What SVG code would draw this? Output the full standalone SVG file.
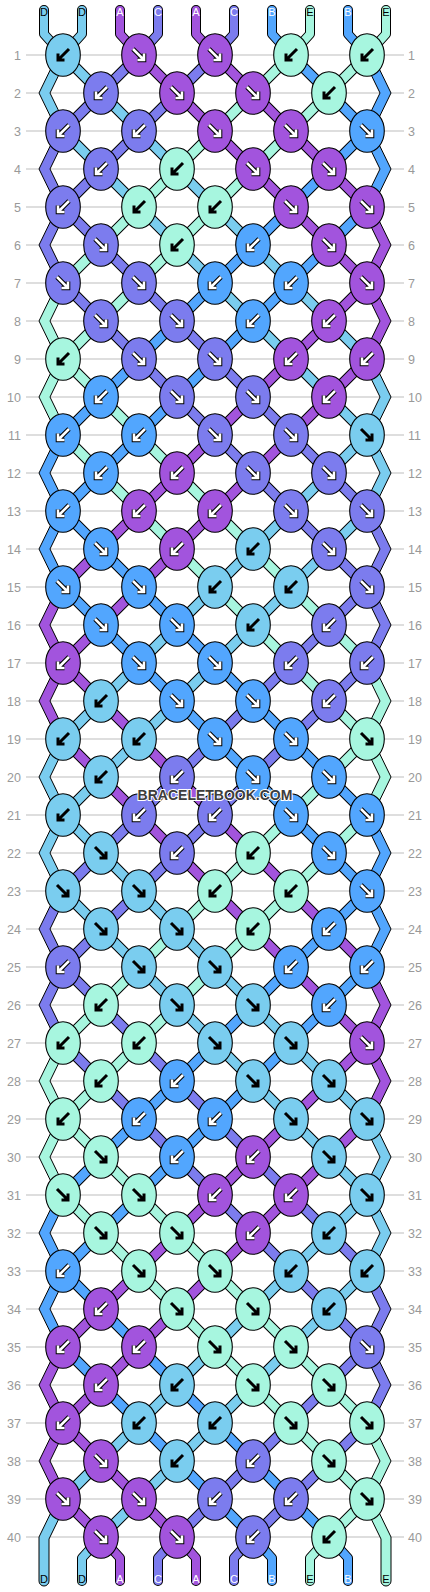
<svg xmlns="http://www.w3.org/2000/svg" xmlns:xlink="http://www.w3.org/1999/xlink" width="430" height="1592" viewBox="0 0 430 1592">
<style>
.fD{fill:#7acdef}.fA{fill:#a254dd}.fC{fill:#7c7cee}.fB{fill:#52a6fe}.fE{fill:#a7f6df}
.sD{stroke:#7acdef}.sA{stroke:#a254dd}.sC{stroke:#7c7cee}.sB{stroke:#52a6fe}.sE{stroke:#a7f6df}
.cn{fill:none;stroke-width:9}
.ol{fill:none;stroke:#000;stroke-width:11}
.th{fill:none;stroke-width:8;stroke-linecap:round;stroke-linejoin:round}
.tho{fill:none;stroke:#000;stroke-width:10;stroke-linecap:round;stroke-linejoin:round}
.ed{stroke:#000;stroke-width:1}
#o{stroke:#000;stroke-width:1.1}
.ab{stroke:#000;stroke-width:3}
.aw1{stroke:#000;stroke-width:4.6}
.aw2{stroke:#fff;stroke-width:2.6}
.grid{fill:none;stroke:#bdbdbd;stroke-width:1}
.rn{font-family:"Liberation Sans",Arial,sans-serif;font-size:12.5px;fill:#999}
.lb{font-family:"Liberation Sans",Arial,sans-serif;font-size:11px;text-anchor:middle}
.lk{fill:#000}.lw{fill:#fff}
.wm{font-family:"Liberation Sans",Arial,sans-serif;font-size:14px;font-weight:bold;fill:#3d3d3d;stroke:#fff;stroke-width:2;paint-order:stroke;text-anchor:middle}
</style>
<defs>
<ellipse id="o" rx="17.3" ry="21.3"/>
<path id="aR" d="M-6,-6L4,4M5,-1.5V5H-1.5" fill="none"/>
<path id="aL" d="M6,-6L-4,4M-5,-1.5V5H1.5" fill="none"/>
<path id="eL" class="ed" d="M57.5,-38L39,0L57.5,38H68.5L50,0L68.5,-38Z"/>
<path id="eR" class="ed" d="M372.5,-38L391,0L372.5,38H361.5L380,0L361.5,-38Z"/>
<g id="DL"><use href="#o" class="fD"/><use href="#aL" class="ab"/></g>
<g id="DR"><use href="#o" class="fD"/><use href="#aR" class="ab"/></g>
<g id="EL"><use href="#o" class="fE"/><use href="#aL" class="ab"/></g>
<g id="ER"><use href="#o" class="fE"/><use href="#aR" class="ab"/></g>
<g id="AL"><use href="#o" class="fA"/><use href="#aL" class="aw1"/><use href="#aL" class="aw2"/></g>
<g id="AR"><use href="#o" class="fA"/><use href="#aR" class="aw1"/><use href="#aR" class="aw2"/></g>
<g id="CL"><use href="#o" class="fC"/><use href="#aL" class="aw1"/><use href="#aL" class="aw2"/></g>
<g id="CR"><use href="#o" class="fC"/><use href="#aR" class="aw1"/><use href="#aR" class="aw2"/></g>
<g id="BL"><use href="#o" class="fB"/><use href="#aL" class="aw1"/><use href="#aL" class="aw2"/></g>
<g id="BR"><use href="#o" class="fB"/><use href="#aR" class="aw1"/><use href="#aR" class="aw2"/></g>
</defs>
<rect width="430" height="1592" fill="#fff"/>
<g id="grid">
<path class="grid" d="M26,55H404M26,93H404M26,131H404M26,169H404M26,207H404M26,245H404M26,283H404M26,321H404M26,359H404M26,397H404M26,435H404M26,473H404M26,511H404M26,549H404M26,587H404M26,625H404M26,663H404M26,701H404M26,739H404M26,777H404M26,815H404M26,853H404M26,891H404M26,929H404M26,967H404M26,1005H404M26,1043H404M26,1081H404M26,1119H404M26,1157H404M26,1195H404M26,1233H404M26,1271H404M26,1309H404M26,1347H404M26,1385H404M26,1423H404M26,1461H404M26,1499H404M26,1537H404"/>
</g>
<g id="rownums" class="rn">
<text x="21" y="59.5" text-anchor="end">1</text><text x="408" y="59.5">1</text>
<text x="21" y="97.5" text-anchor="end">2</text><text x="408" y="97.5">2</text>
<text x="21" y="135.5" text-anchor="end">3</text><text x="408" y="135.5">3</text>
<text x="21" y="173.5" text-anchor="end">4</text><text x="408" y="173.5">4</text>
<text x="21" y="211.5" text-anchor="end">5</text><text x="408" y="211.5">5</text>
<text x="21" y="249.5" text-anchor="end">6</text><text x="408" y="249.5">6</text>
<text x="21" y="287.5" text-anchor="end">7</text><text x="408" y="287.5">7</text>
<text x="21" y="325.5" text-anchor="end">8</text><text x="408" y="325.5">8</text>
<text x="21" y="363.5" text-anchor="end">9</text><text x="408" y="363.5">9</text>
<text x="21" y="401.5" text-anchor="end">10</text><text x="408" y="401.5">10</text>
<text x="21" y="439.5" text-anchor="end">11</text><text x="408" y="439.5">11</text>
<text x="21" y="477.5" text-anchor="end">12</text><text x="408" y="477.5">12</text>
<text x="21" y="515.5" text-anchor="end">13</text><text x="408" y="515.5">13</text>
<text x="21" y="553.5" text-anchor="end">14</text><text x="408" y="553.5">14</text>
<text x="21" y="591.5" text-anchor="end">15</text><text x="408" y="591.5">15</text>
<text x="21" y="629.5" text-anchor="end">16</text><text x="408" y="629.5">16</text>
<text x="21" y="667.5" text-anchor="end">17</text><text x="408" y="667.5">17</text>
<text x="21" y="705.5" text-anchor="end">18</text><text x="408" y="705.5">18</text>
<text x="21" y="743.5" text-anchor="end">19</text><text x="408" y="743.5">19</text>
<text x="21" y="781.5" text-anchor="end">20</text><text x="408" y="781.5">20</text>
<text x="21" y="819.5" text-anchor="end">21</text><text x="408" y="819.5">21</text>
<text x="21" y="857.5" text-anchor="end">22</text><text x="408" y="857.5">22</text>
<text x="21" y="895.5" text-anchor="end">23</text><text x="408" y="895.5">23</text>
<text x="21" y="933.5" text-anchor="end">24</text><text x="408" y="933.5">24</text>
<text x="21" y="971.5" text-anchor="end">25</text><text x="408" y="971.5">25</text>
<text x="21" y="1009.5" text-anchor="end">26</text><text x="408" y="1009.5">26</text>
<text x="21" y="1047.5" text-anchor="end">27</text><text x="408" y="1047.5">27</text>
<text x="21" y="1085.5" text-anchor="end">28</text><text x="408" y="1085.5">28</text>
<text x="21" y="1123.5" text-anchor="end">29</text><text x="408" y="1123.5">29</text>
<text x="21" y="1161.5" text-anchor="end">30</text><text x="408" y="1161.5">30</text>
<text x="21" y="1199.5" text-anchor="end">31</text><text x="408" y="1199.5">31</text>
<text x="21" y="1237.5" text-anchor="end">32</text><text x="408" y="1237.5">32</text>
<text x="21" y="1275.5" text-anchor="end">33</text><text x="408" y="1275.5">33</text>
<text x="21" y="1313.5" text-anchor="end">34</text><text x="408" y="1313.5">34</text>
<text x="21" y="1351.5" text-anchor="end">35</text><text x="408" y="1351.5">35</text>
<text x="21" y="1389.5" text-anchor="end">36</text><text x="408" y="1389.5">36</text>
<text x="21" y="1427.5" text-anchor="end">37</text><text x="408" y="1427.5">37</text>
<text x="21" y="1465.5" text-anchor="end">38</text><text x="408" y="1465.5">38</text>
<text x="21" y="1503.5" text-anchor="end">39</text><text x="408" y="1503.5">39</text>
<text x="21" y="1541.5" text-anchor="end">40</text><text x="408" y="1541.5">40</text>
</g>
<g id="connectors">
<path class="tho" d="M44,10V34L63,55M82,10V34L63,55M120,10V34L139,55M158,10V34L139,55M196,10V34L215,55M234,10V34L215,55M272,10V34L291,55M310,10V34L291,55M348,10V34L367,55M386,10V34L367,55M101,1537L82,1558V1581M101,1537L120,1558V1581M177,1537L158,1558V1581M177,1537L196,1558V1581M253,1537L234,1558V1581M253,1537L272,1558V1581M329,1537L310,1558V1581M329,1537L348,1558V1581"/>
<path class="th sD" d="M44,10V34L63,55M82,10V34L63,55M101,1537L82,1558V1581"/>
<path class="th sA" d="M120,10V34L139,55M196,10V34L215,55M101,1537L120,1558V1581M177,1537L196,1558V1581"/>
<path class="th sC" d="M158,10V34L139,55M234,10V34L215,55M177,1537L158,1558V1581M253,1537L234,1558V1581"/>
<path class="th sB" d="M272,10V34L291,55M348,10V34L367,55M253,1537L272,1558V1581M329,1537L348,1558V1581"/>
<path class="th sE" d="M310,10V34L291,55M386,10V34L367,55M329,1537L310,1558V1581"/>
<path class="ol" d="M291,55L367,131M215,55L367,207M139,55L367,283M63,55L367,359M63,131L367,435M63,207L367,511M63,283L367,587M63,359L367,663M63,435L367,739M63,511L367,815M63,587L367,891M63,663L367,967M63,739L367,1043M63,815L367,1119M63,891L367,1195M63,967L367,1271M63,1043L367,1347M63,1119L367,1423M63,1195L367,1499M63,1271L329,1537M63,1347L253,1537M63,1423L177,1537M63,1499L101,1537M139,55L63,131M215,55L63,207M291,55L63,283M367,55L63,359M367,131L63,435M367,207L63,511M367,283L63,587M367,359L63,663M367,435L63,739M367,511L63,815M367,587L63,891M367,663L63,967M367,739L63,1043M367,815L63,1119M367,891L63,1195M367,967L63,1271M367,1043L63,1347M367,1119L63,1423M367,1195L63,1499M367,1271L101,1537M367,1347L177,1537M367,1423L253,1537M367,1499L329,1537"/>
<path class="cn sD" d="M63,55L367,359M63,131L367,435M367,435L63,739M367,511L63,815M63,815L367,1119M63,891L367,1195M367,1195L63,1499M367,1271L101,1537"/>
<path class="cn sC" d="M139,55L63,131M215,55L63,207M63,207L367,511M63,283L367,587M367,587L63,891M367,663L63,967M63,967L367,1271M63,1043L367,1347M367,1347L177,1537M367,1423L253,1537"/>
<path class="cn sA" d="M139,55L367,283M215,55L367,207M367,283L63,587M367,359L63,663M63,663L367,967M63,739L367,1043M367,1043L63,1347M367,1119L63,1423M63,1423L177,1537M63,1499L101,1537"/>
<path class="cn sE" d="M291,55L63,283M367,55L63,359M63,359L367,663M63,435L367,739M367,739L63,1043M367,815L63,1119M63,1119L367,1423M63,1195L367,1499M367,1499L329,1537"/>
<path class="cn sB" d="M291,55L367,131M367,131L63,435M367,207L63,511M63,511L367,815M63,587L367,891M367,891L63,1195M367,967L63,1271M63,1271L329,1537M63,1347L253,1537"/>
<use href="#eL" y="93" class="fD"/><use href="#eL" y="169" class="fC"/><use href="#eL" y="245" class="fC"/><use href="#eL" y="321" class="fE"/><use href="#eL" y="397" class="fE"/><use href="#eL" y="473" class="fB"/><use href="#eL" y="549" class="fB"/><use href="#eL" y="625" class="fA"/><use href="#eL" y="701" class="fA"/><use href="#eL" y="777" class="fD"/>
<use href="#eL" y="853" class="fD"/><use href="#eL" y="929" class="fC"/><use href="#eL" y="1005" class="fC"/><use href="#eL" y="1081" class="fE"/><use href="#eL" y="1157" class="fE"/><use href="#eL" y="1233" class="fB"/><use href="#eL" y="1309" class="fB"/><use href="#eL" y="1385" class="fA"/><use href="#eL" y="1461" class="fA"/>
<use href="#eR" y="93" class="fB"/><use href="#eR" y="169" class="fB"/><use href="#eR" y="245" class="fA"/><use href="#eR" y="321" class="fA"/><use href="#eR" y="397" class="fD"/><use href="#eR" y="473" class="fD"/><use href="#eR" y="549" class="fC"/><use href="#eR" y="625" class="fC"/><use href="#eR" y="701" class="fE"/><use href="#eR" y="777" class="fE"/>
<use href="#eR" y="853" class="fB"/><use href="#eR" y="929" class="fB"/><use href="#eR" y="1005" class="fA"/><use href="#eR" y="1081" class="fA"/><use href="#eR" y="1157" class="fD"/><use href="#eR" y="1233" class="fD"/><use href="#eR" y="1309" class="fC"/><use href="#eR" y="1385" class="fC"/><use href="#eR" y="1461" class="fE"/>
<path class="ed fD" d="M57.5,1499L39,1537V1581A5,5 0 0 0 49,1581V1539L68.5,1499Z"/>
<path class="ed fE" d="M372.5,1499L391,1537V1581A5,5 0 0 1 381,1581V1539L361.5,1499Z"/>
</g>
<g id="labels" class="lb">
<text x="44" y="16" class="lk">D</text><text x="82" y="16" class="lk">D</text><text x="120" y="16" class="lw">A</text><text x="158" y="16" class="lw">C</text><text x="196" y="16" class="lw">A</text><text x="234" y="16" class="lw">C</text><text x="272" y="16" class="lw">B</text><text x="310" y="16" class="lk">E</text><text x="348" y="16" class="lw">B</text><text x="386" y="16" class="lk">E</text>
<text x="44" y="1583" class="lk">D</text><text x="82" y="1583" class="lk">D</text><text x="120" y="1583" class="lw">A</text><text x="158" y="1583" class="lw">C</text><text x="196" y="1583" class="lw">A</text><text x="234" y="1583" class="lw">C</text><text x="272" y="1583" class="lw">B</text><text x="310" y="1583" class="lk">E</text><text x="348" y="1583" class="lw">B</text><text x="386" y="1583" class="lk">E</text>
</g>
<g id="knots">
<g id="k1_1"><use href="#DL" x="63" y="55"/></g><g id="k1_2"><use href="#AR" x="139" y="55"/></g><g id="k1_3"><use href="#AR" x="215" y="55"/></g><g id="k1_4"><use href="#EL" x="291" y="55"/></g><g id="k1_5"><use href="#EL" x="367" y="55"/></g>
<g id="k2_1"><use href="#CL" x="101" y="93"/></g><g id="k2_2"><use href="#AR" x="177" y="93"/></g><g id="k2_3"><use href="#AR" x="253" y="93"/></g><g id="k2_4"><use href="#EL" x="329" y="93"/></g>
<g id="k3_1"><use href="#CL" x="63" y="131"/></g><g id="k3_2"><use href="#CL" x="139" y="131"/></g><g id="k3_3"><use href="#AR" x="215" y="131"/></g><g id="k3_4"><use href="#AR" x="291" y="131"/></g><g id="k3_5"><use href="#BR" x="367" y="131"/></g>
<g id="k4_1"><use href="#CL" x="101" y="169"/></g><g id="k4_2"><use href="#EL" x="177" y="169"/></g><g id="k4_3"><use href="#AR" x="253" y="169"/></g><g id="k4_4"><use href="#AR" x="329" y="169"/></g>
<g id="k5_1"><use href="#CL" x="63" y="207"/></g><g id="k5_2"><use href="#EL" x="139" y="207"/></g><g id="k5_3"><use href="#EL" x="215" y="207"/></g><g id="k5_4"><use href="#AR" x="291" y="207"/></g><g id="k5_5"><use href="#AR" x="367" y="207"/></g>
<g id="k6_1"><use href="#CR" x="101" y="245"/></g><g id="k6_2"><use href="#EL" x="177" y="245"/></g><g id="k6_3"><use href="#BL" x="253" y="245"/></g><g id="k6_4"><use href="#AR" x="329" y="245"/></g>
<g id="k7_1"><use href="#CR" x="63" y="283"/></g><g id="k7_2"><use href="#CR" x="139" y="283"/></g><g id="k7_3"><use href="#BL" x="215" y="283"/></g><g id="k7_4"><use href="#BL" x="291" y="283"/></g><g id="k7_5"><use href="#AR" x="367" y="283"/></g>
<g id="k8_1"><use href="#CR" x="101" y="321"/></g><g id="k8_2"><use href="#CR" x="177" y="321"/></g><g id="k8_3"><use href="#BL" x="253" y="321"/></g><g id="k8_4"><use href="#AL" x="329" y="321"/></g>
<g id="k9_1"><use href="#EL" x="63" y="359"/></g><g id="k9_2"><use href="#CR" x="139" y="359"/></g><g id="k9_3"><use href="#CR" x="215" y="359"/></g><g id="k9_4"><use href="#AL" x="291" y="359"/></g><g id="k9_5"><use href="#AL" x="367" y="359"/></g>
<g id="k10_1"><use href="#BL" x="101" y="397"/></g><g id="k10_2"><use href="#CR" x="177" y="397"/></g><g id="k10_3"><use href="#CR" x="253" y="397"/></g><g id="k10_4"><use href="#AL" x="329" y="397"/></g>
<g id="k11_1"><use href="#BL" x="63" y="435"/></g><g id="k11_2"><use href="#BL" x="139" y="435"/></g><g id="k11_3"><use href="#CR" x="215" y="435"/></g><g id="k11_4"><use href="#CR" x="291" y="435"/></g><g id="k11_5"><use href="#DR" x="367" y="435"/></g>
<g id="k12_1"><use href="#BL" x="101" y="473"/></g><g id="k12_2"><use href="#AL" x="177" y="473"/></g><g id="k12_3"><use href="#CR" x="253" y="473"/></g><g id="k12_4"><use href="#CR" x="329" y="473"/></g>
<g id="k13_1"><use href="#BL" x="63" y="511"/></g><g id="k13_2"><use href="#AL" x="139" y="511"/></g><g id="k13_3"><use href="#AL" x="215" y="511"/></g><g id="k13_4"><use href="#CR" x="291" y="511"/></g><g id="k13_5"><use href="#CR" x="367" y="511"/></g>
<g id="k14_1"><use href="#BR" x="101" y="549"/></g><g id="k14_2"><use href="#AL" x="177" y="549"/></g><g id="k14_3"><use href="#DL" x="253" y="549"/></g><g id="k14_4"><use href="#CR" x="329" y="549"/></g>
<g id="k15_1"><use href="#BR" x="63" y="587"/></g><g id="k15_2"><use href="#BR" x="139" y="587"/></g><g id="k15_3"><use href="#DL" x="215" y="587"/></g><g id="k15_4"><use href="#DL" x="291" y="587"/></g><g id="k15_5"><use href="#CR" x="367" y="587"/></g>
<g id="k16_1"><use href="#BR" x="101" y="625"/></g><g id="k16_2"><use href="#BR" x="177" y="625"/></g><g id="k16_3"><use href="#DL" x="253" y="625"/></g><g id="k16_4"><use href="#CL" x="329" y="625"/></g>
<g id="k17_1"><use href="#AL" x="63" y="663"/></g><g id="k17_2"><use href="#BR" x="139" y="663"/></g><g id="k17_3"><use href="#BR" x="215" y="663"/></g><g id="k17_4"><use href="#CL" x="291" y="663"/></g><g id="k17_5"><use href="#CL" x="367" y="663"/></g>
<g id="k18_1"><use href="#DL" x="101" y="701"/></g><g id="k18_2"><use href="#BR" x="177" y="701"/></g><g id="k18_3"><use href="#BR" x="253" y="701"/></g><g id="k18_4"><use href="#CL" x="329" y="701"/></g>
<g id="k19_1"><use href="#DL" x="63" y="739"/></g><g id="k19_2"><use href="#DL" x="139" y="739"/></g><g id="k19_3"><use href="#BR" x="215" y="739"/></g><g id="k19_4"><use href="#BR" x="291" y="739"/></g><g id="k19_5"><use href="#ER" x="367" y="739"/></g>
<g id="k20_1"><use href="#DL" x="101" y="777"/></g><g id="k20_2"><use href="#CL" x="177" y="777"/></g><g id="k20_3"><use href="#BR" x="253" y="777"/></g><g id="k20_4"><use href="#BR" x="329" y="777"/></g>
<g id="k21_1"><use href="#DL" x="63" y="815"/></g><g id="k21_2"><use href="#CL" x="139" y="815"/></g><g id="k21_3"><use href="#CL" x="215" y="815"/></g><g id="k21_4"><use href="#BR" x="291" y="815"/></g><g id="k21_5"><use href="#BR" x="367" y="815"/></g>
<g id="k22_1"><use href="#DR" x="101" y="853"/></g><g id="k22_2"><use href="#CL" x="177" y="853"/></g><g id="k22_3"><use href="#EL" x="253" y="853"/></g><g id="k22_4"><use href="#BR" x="329" y="853"/></g>
<g id="k23_1"><use href="#DR" x="63" y="891"/></g><g id="k23_2"><use href="#DR" x="139" y="891"/></g><g id="k23_3"><use href="#EL" x="215" y="891"/></g><g id="k23_4"><use href="#EL" x="291" y="891"/></g><g id="k23_5"><use href="#BR" x="367" y="891"/></g>
<g id="k24_1"><use href="#DR" x="101" y="929"/></g><g id="k24_2"><use href="#DR" x="177" y="929"/></g><g id="k24_3"><use href="#EL" x="253" y="929"/></g><g id="k24_4"><use href="#BL" x="329" y="929"/></g>
<g id="k25_1"><use href="#CL" x="63" y="967"/></g><g id="k25_2"><use href="#DR" x="139" y="967"/></g><g id="k25_3"><use href="#DR" x="215" y="967"/></g><g id="k25_4"><use href="#BL" x="291" y="967"/></g><g id="k25_5"><use href="#BL" x="367" y="967"/></g>
<g id="k26_1"><use href="#EL" x="101" y="1005"/></g><g id="k26_2"><use href="#DR" x="177" y="1005"/></g><g id="k26_3"><use href="#DR" x="253" y="1005"/></g><g id="k26_4"><use href="#BL" x="329" y="1005"/></g>
<g id="k27_1"><use href="#EL" x="63" y="1043"/></g><g id="k27_2"><use href="#EL" x="139" y="1043"/></g><g id="k27_3"><use href="#DR" x="215" y="1043"/></g><g id="k27_4"><use href="#DR" x="291" y="1043"/></g><g id="k27_5"><use href="#AR" x="367" y="1043"/></g>
<g id="k28_1"><use href="#EL" x="101" y="1081"/></g><g id="k28_2"><use href="#BL" x="177" y="1081"/></g><g id="k28_3"><use href="#DR" x="253" y="1081"/></g><g id="k28_4"><use href="#DR" x="329" y="1081"/></g>
<g id="k29_1"><use href="#EL" x="63" y="1119"/></g><g id="k29_2"><use href="#BL" x="139" y="1119"/></g><g id="k29_3"><use href="#BL" x="215" y="1119"/></g><g id="k29_4"><use href="#DR" x="291" y="1119"/></g><g id="k29_5"><use href="#DR" x="367" y="1119"/></g>
<g id="k30_1"><use href="#ER" x="101" y="1157"/></g><g id="k30_2"><use href="#BL" x="177" y="1157"/></g><g id="k30_3"><use href="#AL" x="253" y="1157"/></g><g id="k30_4"><use href="#DR" x="329" y="1157"/></g>
<g id="k31_1"><use href="#ER" x="63" y="1195"/></g><g id="k31_2"><use href="#ER" x="139" y="1195"/></g><g id="k31_3"><use href="#AL" x="215" y="1195"/></g><g id="k31_4"><use href="#AL" x="291" y="1195"/></g><g id="k31_5"><use href="#DR" x="367" y="1195"/></g>
<g id="k32_1"><use href="#ER" x="101" y="1233"/></g><g id="k32_2"><use href="#ER" x="177" y="1233"/></g><g id="k32_3"><use href="#AL" x="253" y="1233"/></g><g id="k32_4"><use href="#DL" x="329" y="1233"/></g>
<g id="k33_1"><use href="#BL" x="63" y="1271"/></g><g id="k33_2"><use href="#ER" x="139" y="1271"/></g><g id="k33_3"><use href="#ER" x="215" y="1271"/></g><g id="k33_4"><use href="#DL" x="291" y="1271"/></g><g id="k33_5"><use href="#DL" x="367" y="1271"/></g>
<g id="k34_1"><use href="#AL" x="101" y="1309"/></g><g id="k34_2"><use href="#ER" x="177" y="1309"/></g><g id="k34_3"><use href="#ER" x="253" y="1309"/></g><g id="k34_4"><use href="#DL" x="329" y="1309"/></g>
<g id="k35_1"><use href="#AL" x="63" y="1347"/></g><g id="k35_2"><use href="#AL" x="139" y="1347"/></g><g id="k35_3"><use href="#ER" x="215" y="1347"/></g><g id="k35_4"><use href="#ER" x="291" y="1347"/></g><g id="k35_5"><use href="#CR" x="367" y="1347"/></g>
<g id="k36_1"><use href="#AL" x="101" y="1385"/></g><g id="k36_2"><use href="#DL" x="177" y="1385"/></g><g id="k36_3"><use href="#ER" x="253" y="1385"/></g><g id="k36_4"><use href="#ER" x="329" y="1385"/></g>
<g id="k37_1"><use href="#AL" x="63" y="1423"/></g><g id="k37_2"><use href="#DL" x="139" y="1423"/></g><g id="k37_3"><use href="#DL" x="215" y="1423"/></g><g id="k37_4"><use href="#ER" x="291" y="1423"/></g><g id="k37_5"><use href="#ER" x="367" y="1423"/></g>
<g id="k38_1"><use href="#AR" x="101" y="1461"/></g><g id="k38_2"><use href="#DL" x="177" y="1461"/></g><g id="k38_3"><use href="#CL" x="253" y="1461"/></g><g id="k38_4"><use href="#ER" x="329" y="1461"/></g>
<g id="k39_1"><use href="#AR" x="63" y="1499"/></g><g id="k39_2"><use href="#AR" x="139" y="1499"/></g><g id="k39_3"><use href="#CL" x="215" y="1499"/></g><g id="k39_4"><use href="#CL" x="291" y="1499"/></g><g id="k39_5"><use href="#ER" x="367" y="1499"/></g>
<g id="k40_1"><use href="#AR" x="101" y="1537"/></g><g id="k40_2"><use href="#AR" x="177" y="1537"/></g><g id="k40_3"><use href="#CL" x="253" y="1537"/></g><g id="k40_4"><use href="#EL" x="329" y="1537"/></g>
</g>
<text class="wm" x="215" y="800">BRACELETBOOK.COM</text>
</svg>
